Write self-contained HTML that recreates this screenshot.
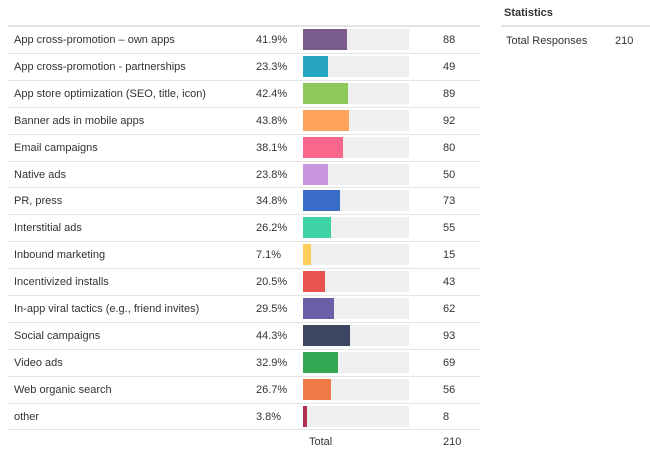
<!DOCTYPE html>
<html><head><style>
body{margin:0;width:650px;height:454px;background:#fff;font-family:"Liberation Sans",sans-serif;font-size:11px;color:#333;position:relative;overflow:hidden}
.a{position:absolute}
.line{position:absolute;left:8px;width:472px;height:1px;background:#e3e3e3}
.bg{position:absolute;left:303px;width:106px;height:21px;background:#efefef}
.t{position:absolute;line-height:14px}
</style></head><body>
<div class="a" style="left:8px;top:25px;width:472px;height:2px;background:#e3e3e3"></div>
<div class="t" style="left:504px;top:6px;font-weight:bold;font-size:11px">Statistics</div>
<div class="a" style="left:501px;top:25px;width:149px;height:2px;background:#e3e3e3"></div>
<div class="t" style="left:506px;top:34px">Total Responses</div>
<div class="t" style="left:615px;top:34px">210</div>
<div id="rows"></div>
<div class="t" style="left:309px;top:435px">Total</div>
<div class="t" style="left:443px;top:435px">210</div>
<script>
var d=[["App cross-promotion – own apps","41.9%",88,"#7a5c8c"],["App cross-promotion - partnerships","23.3%",49,"#26a6c2"],["App store optimization (SEO, title, icon)","42.4%",89,"#8dc85a"],["Banner ads in mobile apps","43.8%",92,"#ffa35a"],["Email campaigns","38.1%",80,"#f9688a"],["Native ads","23.8%",50,"#c995dd"],["PR, press","34.8%",73,"#3a6cc9"],["Interstitial ads","26.2%",55,"#3ed2a6"],["Inbound marketing","7.1%",15,"#ffcf5a"],["Incentivized installs","20.5%",43,"#e8534f"],["In-app viral tactics (e.g., friend invites)","29.5%",62,"#6a5fa6"],["Social campaigns","44.3%",93,"#3d4660"],["Video ads","32.9%",69,"#33a852"],["Web organic search","26.7%",56,"#ef7a45"],["other","3.8%",8,"#b2304f"]];
var h="";
d.forEach(function(r,i){var y=27+i*26.9;
h+='<div class="t" style="left:14px;top:'+(y+6)+'px">'+r[0]+'</div>';
h+='<div class="t" style="left:256px;top:'+(y+6)+'px">'+r[1]+'</div>';
h+='<div class="bg" style="top:'+(y+2)+'px"></div>';
h+='<div class="a" style="left:303px;top:'+(y+2)+'px;height:21px;width:'+Math.max(3,Math.round(parseFloat(r[1])*1.06))+'px;background:'+r[3]+'"></div>';
h+='<div class="t" style="left:443px;top:'+(y+6)+'px">'+r[2]+'</div>';
h+='<div class="line" style="top:'+Math.round(y+25.9)+'px"></div>';});
document.getElementById("rows").innerHTML=h;
</script>
</body></html>
